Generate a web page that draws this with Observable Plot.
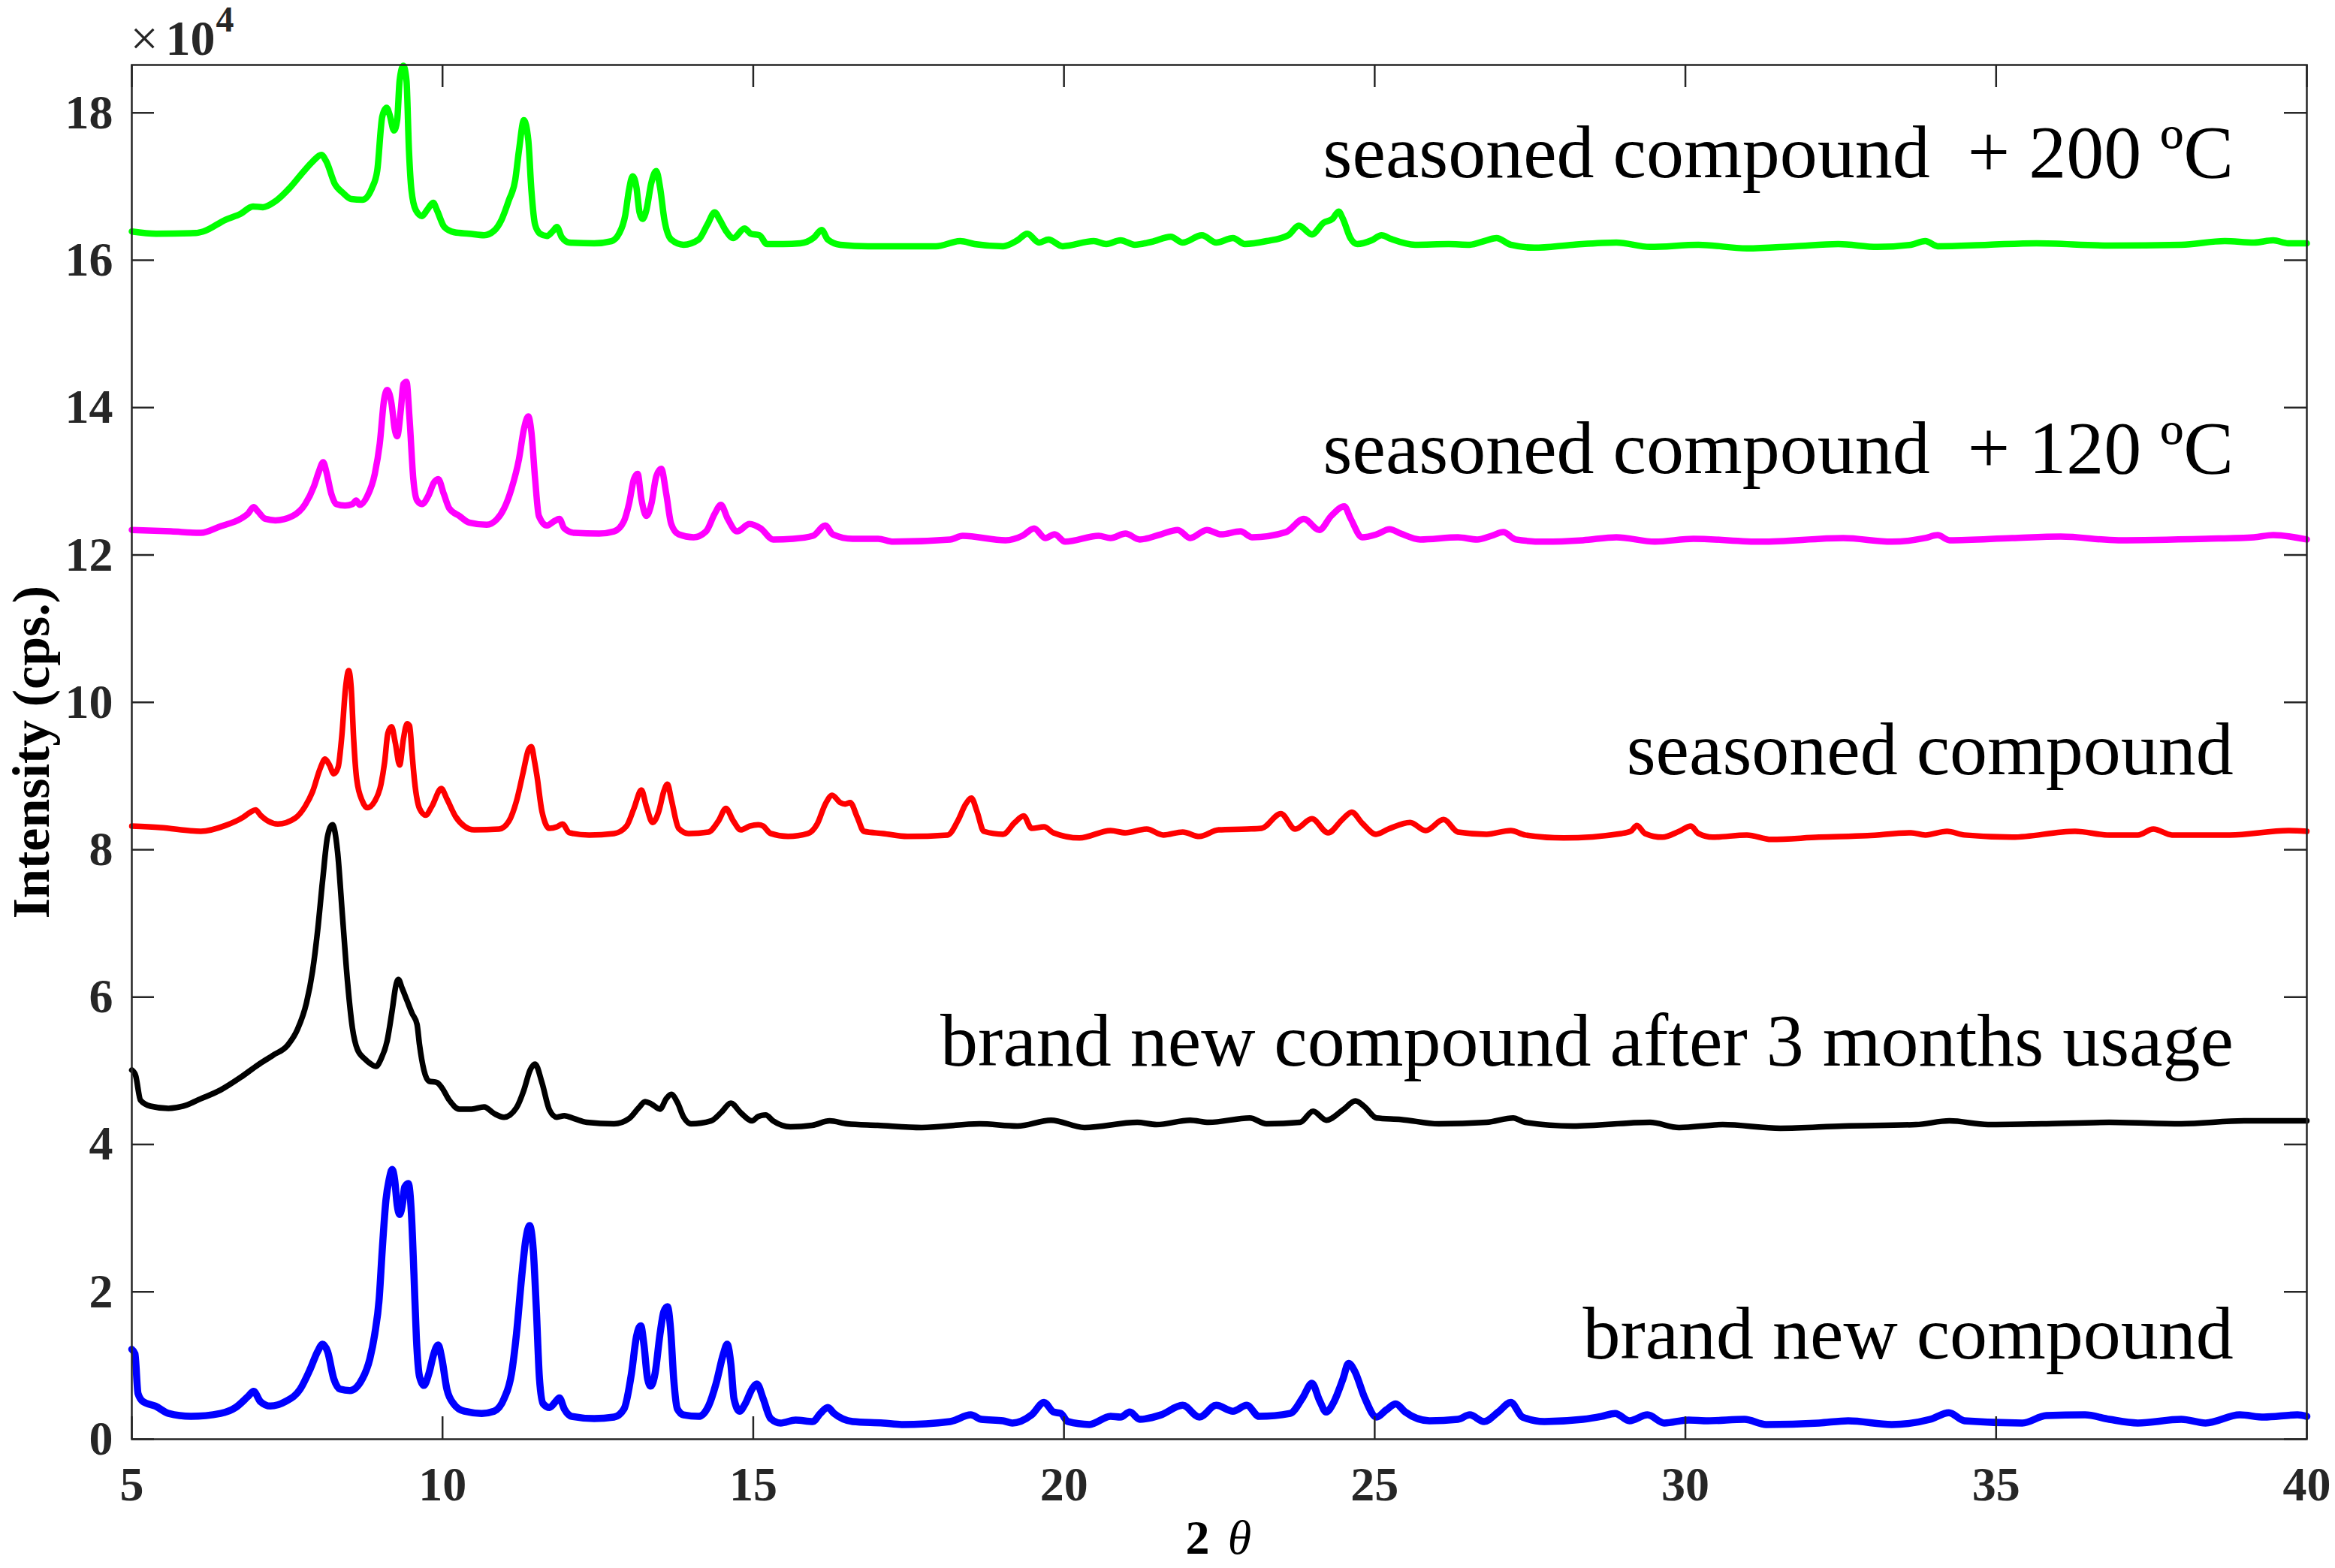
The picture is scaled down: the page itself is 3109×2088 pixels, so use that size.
<!DOCTYPE html>
<html>
<head>
<meta charset="utf-8">
<script src="https://cdn.jsdelivr.net/npm/d3@7"></script>
<script src="https://cdn.jsdelivr.net/npm/@observablehq/plot@0.6"></script>
<style>
html, body { margin: 0; padding: 0; background: #ffffff; }
#chart svg { display: block; }
</style>
</head>
<body>
<div id="chart"></div>
<script>
// ---- tick values (intensity in units of 10^4 cps) ----
const xTicks = [5, 10, 15, 20, 25, 30, 35, 40];
const yTicks = [0, 2, 4, 6, 8, 10, 12, 14, 16, 18];

// ---- series names / colours / label anchors ----
const seriesNames = [
  "seasoned compound\u00A0 + 200 ºC",
  "seasoned compound\u00A0 + 120 ºC",
  "seasoned compound",
  "brand new compound after 3 months usage",
  "brand new compound"
];
const seriesColors = ["#00ff00", "#ff00ff", "#ff0000", "#000000", "#0000ff"];
const seriesWidths = [8.5, 8.5, 7.5, 7.5, 9.5];
const labelX = 38.82;
const labelY = [17.13, 13.11, 9.02, 5.07, 1.10];

// ---- data: [2θ, intensity ×10^4] ----
const green = [[5.00,16.39],[5.39,16.36],[6.03,16.37],[6.15,16.39],[6.51,16.55],[6.75,16.63],[6.95,16.73],[7.11,16.72],[7.31,16.80],[7.55,16.99],[7.75,17.19],[7.91,17.34],[8.05,17.43],[8.13,17.34],[8.27,17.03],[8.39,16.92],[8.53,16.83],[8.71,16.82],[8.87,16.99],[8.95,17.22],[9.03,17.95],[9.10,18.07],[9.15,17.97],[9.22,17.76],[9.27,17.90],[9.31,18.44],[9.37,18.64],[9.42,18.44],[9.46,17.49],[9.50,16.95],[9.57,16.68],[9.67,16.60],[9.75,16.68],[9.85,16.78],[9.91,16.68],[10.03,16.45],[10.19,16.38],[10.43,16.36],[10.67,16.34],[10.83,16.40],[10.95,16.55],[11.07,16.82],[11.17,17.09],[11.23,17.49],[11.31,17.90],[11.38,17.63],[11.43,16.95],[11.49,16.48],[11.57,16.36],[11.68,16.33],[11.78,16.40],[11.84,16.45],[11.92,16.31],[12.04,16.24],[12.44,16.23],[12.72,16.26],[12.84,16.36],[12.94,16.61],[13.00,16.95],[13.06,17.14],[13.12,16.99],[13.17,16.65],[13.22,16.56],[13.28,16.68],[13.36,17.05],[13.44,17.21],[13.50,16.99],[13.57,16.55],[13.68,16.28],[13.88,16.21],[14.12,16.28],[14.26,16.48],[14.38,16.65],[14.46,16.55],[14.56,16.40],[14.68,16.30],[14.86,16.43],[14.96,16.36],[15.10,16.34],[15.22,16.22],[15.48,16.22],[15.76,16.23],[15.98,16.31],[16.10,16.41],[16.20,16.28],[16.40,16.21],[16.85,16.19],[17.39,16.19],[17.94,16.19],[18.33,16.26],[18.56,16.22],[19.02,16.19],[19.25,16.27],[19.41,16.36],[19.60,16.24],[19.75,16.28],[19.98,16.19],[20.48,16.26],[20.68,16.22],[20.91,16.27],[21.14,16.21],[21.41,16.25],[21.72,16.32],[21.91,16.24],[22.22,16.34],[22.45,16.24],[22.72,16.30],[22.91,16.22],[23.26,16.26],[23.61,16.34],[23.78,16.47],[23.99,16.35],[24.18,16.51],[24.32,16.56],[24.42,16.66],[24.49,16.56],[24.61,16.30],[24.72,16.22],[24.95,16.27],[25.11,16.34],[25.26,16.29],[25.65,16.21],[26.19,16.22],[26.53,16.21],[26.80,16.27],[26.96,16.30],[27.19,16.21],[27.57,16.17],[28.19,16.21],[28.89,16.24],[29.43,16.18],[30.21,16.21],[30.99,16.16],[31.76,16.19],[32.46,16.22],[33.09,16.18],[33.63,16.21],[33.86,16.26],[34.06,16.19],[34.87,16.21],[35.65,16.23],[36.82,16.20],[37.98,16.21],[38.68,16.26],[39.15,16.24],[39.46,16.27],[39.70,16.23],[40.00,16.23]];

const magenta = [[5.00,12.34],[5.63,12.32],[6.11,12.30],[6.43,12.39],[6.75,12.49],[6.87,12.56],[6.96,12.65],[7.03,12.59],[7.15,12.49],[7.31,12.47],[7.59,12.53],[7.79,12.69],[7.93,12.93],[8.01,13.13],[8.08,13.26],[8.13,13.13],[8.21,12.83],[8.29,12.69],[8.43,12.67],[8.55,12.69],[8.61,12.74],[8.67,12.68],[8.79,12.80],[8.91,13.10],[8.99,13.51],[9.06,14.11],[9.11,14.24],[9.18,14.05],[9.23,13.71],[9.27,13.61],[9.33,13.98],[9.37,14.32],[9.42,14.35],[9.47,13.84],[9.53,13.03],[9.59,12.74],[9.67,12.69],[9.77,12.80],[9.86,12.98],[9.93,13.03],[10.02,12.83],[10.11,12.63],[10.27,12.53],[10.43,12.44],[10.71,12.41],[10.87,12.48],[10.99,12.63],[11.11,12.90],[11.23,13.30],[11.31,13.71],[11.38,13.88],[11.43,13.67],[11.49,13.03],[11.55,12.53],[11.68,12.40],[11.80,12.46],[11.88,12.49],[11.96,12.36],[12.12,12.30],[12.52,12.29],[12.76,12.32],[12.92,12.46],[13.00,12.69],[13.08,13.03],[13.14,13.10],[13.20,12.76],[13.28,12.53],[13.36,12.69],[13.44,13.07],[13.52,13.17],[13.60,12.83],[13.68,12.42],[13.80,12.28],[14.04,12.24],[14.24,12.32],[14.38,12.56],[14.48,12.68],[14.59,12.49],[14.74,12.32],[14.94,12.42],[15.12,12.36],[15.32,12.21],[15.64,12.22],[15.96,12.26],[16.16,12.40],[16.28,12.28],[16.60,12.22],[17.01,12.22],[17.25,12.18],[18.17,12.21],[18.37,12.26],[19.06,12.20],[19.33,12.26],[19.52,12.36],[19.70,12.23],[19.85,12.28],[20.02,12.18],[20.56,12.26],[20.75,12.23],[20.99,12.29],[21.22,12.21],[21.56,12.28],[21.83,12.34],[22.03,12.23],[22.30,12.34],[22.53,12.28],[22.84,12.32],[23.03,12.24],[23.57,12.31],[23.86,12.49],[24.11,12.34],[24.30,12.53],[24.51,12.66],[24.61,12.50],[24.80,12.24],[25.03,12.28],[25.24,12.35],[25.42,12.29],[25.73,12.21],[26.34,12.24],[26.65,12.21],[26.88,12.26],[27.07,12.31],[27.27,12.21],[27.73,12.18],[28.35,12.20],[28.89,12.24],[29.51,12.18],[30.13,12.22],[31.22,12.18],[32.54,12.23],[33.32,12.18],[33.86,12.23],[34.06,12.27],[34.25,12.20],[35.26,12.23],[36.04,12.25],[36.97,12.20],[38.37,12.22],[39.15,12.24],[39.46,12.27],[40.00,12.21]];

const red = [[5.00,8.32],[5.46,8.30],[6.11,8.25],[6.51,8.33],[6.79,8.44],[6.91,8.51],[6.99,8.54],[7.07,8.47],[7.19,8.39],[7.35,8.35],[7.63,8.43],[7.79,8.59],[7.91,8.79],[8.03,9.10],[8.11,9.23],[8.18,9.15],[8.25,9.03],[8.32,9.12],[8.38,9.55],[8.44,10.20],[8.49,10.43],[8.53,10.20],[8.57,9.50],[8.62,8.95],[8.71,8.66],[8.79,8.57],[8.91,8.66],[9.01,8.89],[9.07,9.20],[9.12,9.58],[9.18,9.67],[9.24,9.45],[9.31,9.15],[9.37,9.50],[9.43,9.71],[9.47,9.68],[9.51,9.30],[9.55,8.93],[9.63,8.56],[9.73,8.47],[9.83,8.59],[9.98,8.83],[10.07,8.69],[10.21,8.45],[10.35,8.32],[10.51,8.27],[10.91,8.28],[11.07,8.39],[11.19,8.66],[11.30,9.06],[11.38,9.35],[11.43,9.40],[11.48,9.20],[11.52,9.00],[11.60,8.52],[11.72,8.29],[11.84,8.31],[11.93,8.35],[12.04,8.23],[12.36,8.20],[12.76,8.22],[12.96,8.32],[13.08,8.56],[13.20,8.81],[13.28,8.59],[13.38,8.37],[13.48,8.52],[13.56,8.79],[13.62,8.89],[13.68,8.69],[13.80,8.29],[13.96,8.22],[14.28,8.24],[14.44,8.39],[14.56,8.56],[14.68,8.39],[14.80,8.27],[14.94,8.32],[15.08,8.34],[15.16,8.32],[15.28,8.22],[15.56,8.18],[15.88,8.22],[16.03,8.35],[16.16,8.62],[16.27,8.74],[16.40,8.64],[16.48,8.62],[16.56,8.64],[16.67,8.45],[16.78,8.25],[17.09,8.22],[17.48,8.18],[18.13,8.20],[18.29,8.39],[18.42,8.62],[18.51,8.70],[18.60,8.52],[18.71,8.25],[19.02,8.21],[19.21,8.37],[19.35,8.46],[19.48,8.29],[19.68,8.31],[19.83,8.23],[20.25,8.16],[20.75,8.26],[20.99,8.23],[21.33,8.28],[21.60,8.20],[21.91,8.24],[22.18,8.18],[22.49,8.27],[22.95,8.28],[23.18,8.29],[23.49,8.49],[23.72,8.28],[23.99,8.42],[24.25,8.23],[24.49,8.42],[24.63,8.51],[24.80,8.36],[25.02,8.21],[25.22,8.28],[25.57,8.37],[25.82,8.26],[26.11,8.41],[26.34,8.24],[26.80,8.21],[27.19,8.26],[27.42,8.20],[28.04,8.16],[28.97,8.22],[29.12,8.25],[29.22,8.33],[29.35,8.22],[29.63,8.17],[29.90,8.25],[30.09,8.32],[30.21,8.22],[30.44,8.17],[30.99,8.20],[31.38,8.14],[32.15,8.17],[32.93,8.19],[33.63,8.23],[33.86,8.20],[34.21,8.25],[34.49,8.20],[35.26,8.17],[36.27,8.25],[36.82,8.20],[37.28,8.20],[37.53,8.28],[37.83,8.20],[38.76,8.20],[39.70,8.26],[40.00,8.25]];

const black = [[5.00,5.01],[5.06,4.94],[5.14,4.60],[5.30,4.52],[5.59,4.49],[5.83,4.52],[6.11,4.62],[6.43,4.74],[6.75,4.91],[7.03,5.08],[7.27,5.21],[7.51,5.35],[7.67,5.57],[7.81,5.92],[7.91,6.36],[7.99,6.90],[8.07,7.58],[8.15,8.18],[8.23,8.34],[8.31,7.98],[8.39,7.10],[8.47,6.22],[8.55,5.58],[8.63,5.29],[8.75,5.16],[8.85,5.09],[8.93,5.06],[9.01,5.16],[9.11,5.41],[9.19,5.82],[9.25,6.16],[9.29,6.24],[9.35,6.12],[9.43,5.95],[9.51,5.78],[9.59,5.63],[9.63,5.35],[9.70,5.01],[9.78,4.86],[9.91,4.84],[9.99,4.77],[10.11,4.60],[10.27,4.48],[10.47,4.48],[10.67,4.51],[10.83,4.42],[10.99,4.37],[11.19,4.50],[11.31,4.74],[11.41,5.01],[11.49,5.09],[11.60,4.84],[11.72,4.47],[11.84,4.37],[11.96,4.39],[12.12,4.35],[12.32,4.30],[12.76,4.28],[13.00,4.35],[13.16,4.50],[13.26,4.58],[13.36,4.55],[13.50,4.48],[13.60,4.62],[13.68,4.68],[13.78,4.57],[13.88,4.37],[14.00,4.28],[14.32,4.32],[14.48,4.43],[14.64,4.56],[14.80,4.43],[14.98,4.32],[15.08,4.38],[15.20,4.40],[15.32,4.32],[15.60,4.24],[15.95,4.26],[16.23,4.32],[16.51,4.28],[17.00,4.26],[17.71,4.23],[18.64,4.28],[19.25,4.25],[19.79,4.33],[20.33,4.23],[21.18,4.30],[21.49,4.27],[22.03,4.33],[22.33,4.30],[22.99,4.36],[23.26,4.28],[23.80,4.30],[24.01,4.45],[24.22,4.33],[24.49,4.47],[24.69,4.59],[24.84,4.51],[25.03,4.36],[25.42,4.34],[26.03,4.28],[26.80,4.30],[27.23,4.36],[27.42,4.30],[28.19,4.25],[29.43,4.30],[29.90,4.23],[30.60,4.27],[31.53,4.22],[32.54,4.25],[33.71,4.27],[34.25,4.32],[34.87,4.27],[35.73,4.28],[36.82,4.30],[37.98,4.28],[38.99,4.32],[40.00,4.32]];

const blue = [[5.00,1.22],[5.05,1.16],[5.10,0.62],[5.18,0.51],[5.38,0.45],[5.59,0.35],[5.95,0.31],[6.43,0.35],[6.67,0.43],[6.87,0.58],[6.96,0.65],[7.07,0.51],[7.23,0.45],[7.47,0.51],[7.71,0.68],[7.87,0.95],[7.99,1.19],[8.07,1.29],[8.15,1.19],[8.25,0.82],[8.35,0.68],[8.51,0.66],[8.71,0.82],[8.83,1.09],[8.91,1.43],[8.98,1.90],[9.03,2.57],[9.09,3.25],[9.14,3.52],[9.19,3.66],[9.23,3.52],[9.27,3.18],[9.31,3.05],[9.36,3.22],[9.39,3.42],[9.45,3.47],[9.50,3.05],[9.54,2.24],[9.58,1.36],[9.63,0.85],[9.70,0.73],[9.78,0.89],[9.86,1.16],[9.93,1.28],[9.99,1.09],[10.07,0.68],[10.18,0.48],[10.35,0.38],[10.63,0.35],[10.83,0.38],[10.99,0.55],[11.11,0.89],[11.19,1.43],[11.27,2.17],[11.34,2.71],[11.40,2.90],[11.46,2.57],[11.51,1.76],[11.56,0.82],[11.62,0.48],[11.72,0.43],[11.82,0.51],[11.88,0.56],[11.96,0.41],[12.08,0.31],[12.44,0.28],[12.76,0.30],[12.92,0.41],[13.04,0.89],[13.12,1.39],[13.19,1.54],[13.24,1.29],[13.30,0.82],[13.35,0.72],[13.42,0.89],[13.50,1.43],[13.56,1.73],[13.62,1.80],[13.67,1.49],[13.72,0.82],[13.78,0.41],[13.88,0.33],[14.12,0.31],[14.28,0.45],[14.40,0.75],[14.52,1.16],[14.58,1.29],[14.64,1.02],[14.69,0.55],[14.78,0.38],[14.87,0.48],[14.98,0.68],[15.06,0.75],[15.16,0.55],[15.28,0.28],[15.44,0.22],[15.68,0.26],[15.96,0.24],[16.08,0.35],[16.20,0.43],[16.30,0.35],[16.60,0.24],[17.09,0.22],[17.39,0.20],[18.17,0.24],[18.50,0.33],[18.67,0.27],[19.02,0.25],[19.17,0.22],[19.48,0.33],[19.68,0.50],[19.83,0.37],[19.95,0.35],[20.06,0.24],[20.41,0.20],[20.75,0.31],[20.91,0.30],[21.06,0.37],[21.22,0.27],[21.56,0.33],[21.91,0.46],[22.18,0.30],[22.45,0.46],[22.72,0.38],[22.94,0.46],[23.14,0.31],[23.64,0.35],[23.84,0.56],[23.99,0.76],[24.11,0.53],[24.22,0.37],[24.34,0.50],[24.49,0.82],[24.58,1.03],[24.68,0.92],[24.84,0.56],[25.03,0.30],[25.19,0.40],[25.34,0.48],[25.49,0.37],[25.88,0.25],[26.34,0.27],[26.53,0.33],[26.76,0.24],[26.99,0.37],[27.19,0.50],[27.38,0.30],[27.73,0.24],[28.35,0.27],[28.65,0.31],[28.87,0.35],[29.10,0.25],[29.39,0.33],[29.66,0.22],[30.05,0.26],[30.36,0.25],[30.95,0.27],[31.30,0.20],[32.15,0.22],[32.62,0.25],[33.32,0.20],[33.94,0.27],[34.24,0.36],[34.49,0.25],[35.42,0.22],[35.81,0.32],[36.43,0.33],[36.82,0.27],[37.28,0.22],[37.98,0.27],[38.37,0.22],[38.92,0.33],[39.31,0.30],[39.85,0.33],[40.00,0.31]];

const seriesData = [green, magenta, red, black, blue];

// ---- layout ----
const W = 3109, H = 2088;
const mL = 175, mR = 38, mT = 86, mB = 172;
const innerW = W - mL - mR, innerH = H - mT - mB;
const tickLen = 30;
const serif = "'Liberation Serif', 'Times New Roman', Times, serif";
const axisColor = "#262626";

const labels = seriesNames.map((name, i) => ({name, x: labelX, y: labelY[i]}));

const lineMarks = seriesData.map((pts, i) =>
  Plot.line(pts, {
    x: d => d[0], y: d => d[1],
    stroke: seriesColors[i], strokeWidth: seriesWidths[i],
    curve: "monotone-x", strokeLinejoin: "round", strokeLinecap: "round"
  })
);

const chart = Plot.plot({
  width: W, height: H,
  marginLeft: mL, marginRight: mR, marginTop: mT, marginBottom: mB,
  style: {background: "#ffffff", color: axisColor, fontFamily: serif, overflow: "visible"},
  x: {domain: [5, 40], axis: null},
  y: {domain: [0, 18.65], axis: null},
  marks: [
    ...lineMarks,
    Plot.frame({stroke: axisColor, strokeWidth: 2.5}),
    // inward ticks on all four sides
    Plot.ruleX(xTicks, {x: d => d, insetTop: innerH - tickLen, stroke: axisColor, strokeWidth: 2.5}),
    Plot.ruleX(xTicks, {x: d => d, insetBottom: innerH - tickLen, stroke: axisColor, strokeWidth: 2.5}),
    Plot.ruleY(yTicks, {y: d => d, insetRight: innerW - tickLen, stroke: axisColor, strokeWidth: 2.5}),
    Plot.ruleY(yTicks, {y: d => d, insetLeft: innerW - tickLen, stroke: axisColor, strokeWidth: 2.5}),
    // tick labels
    Plot.axisX({ticks: xTicks, tickSize: 0, tickPadding: 36, tickFormat: d => String(d),
      fontSize: 64, fontWeight: "bold", fontFamily: serif, fill: axisColor, label: null}),
    Plot.axisY({ticks: yTicks, tickSize: 0, tickPadding: 25, tickFormat: d => String(d),
      fontSize: 64, fontWeight: "bold", fontFamily: serif, fill: axisColor, label: null}),
    // ×10^4 multiplier
    Plot.text(["×"], {frameAnchor: "top-left", dx: -2, dy: -14, textAnchor: "start", lineAnchor: "bottom",
      fontSize: 66, fontFamily: serif, fill: axisColor}),
    Plot.text(["10"], {frameAnchor: "top-left", dx: 45, dy: -14, textAnchor: "start", lineAnchor: "bottom",
      fontSize: 66, fontWeight: "bold", fontFamily: serif, fill: axisColor}),
    Plot.text(["4"], {frameAnchor: "top-left", dx: 112, dy: -45, textAnchor: "start", lineAnchor: "bottom",
      fontSize: 48, fontWeight: "bold", fontFamily: serif, fill: axisColor}),
    // axis titles
    Plot.text(["Intensity (cps.)"], {frameAnchor: "left", dx: -111, rotate: -90, textAnchor: "middle",
      lineAnchor: "bottom", fontSize: 70, fontWeight: "bold", fontFamily: serif, fill: "#000000"}),
    Plot.text(["2"], {frameAnchor: "bottom", dx: -29, dy: 152, textAnchor: "middle", lineAnchor: "bottom",
      fontSize: 64, fontWeight: "bold", fontFamily: serif, fill: "#000000"}),
    Plot.text(["θ"], {frameAnchor: "bottom", dx: 27, dy: 152, textAnchor: "middle", lineAnchor: "bottom",
      fontSize: 64, fontStyle: "italic", fontFamily: serif, fill: "#000000"}),
    // series annotations
    Plot.text(labels, {x: "x", y: "y", text: "name", textAnchor: "end", lineAnchor: "bottom",
      fontSize: 100, fontFamily: serif, fill: "#000000"})
  ]
});

document.getElementById("chart").appendChild(chart);
</script>
</body>
</html>
